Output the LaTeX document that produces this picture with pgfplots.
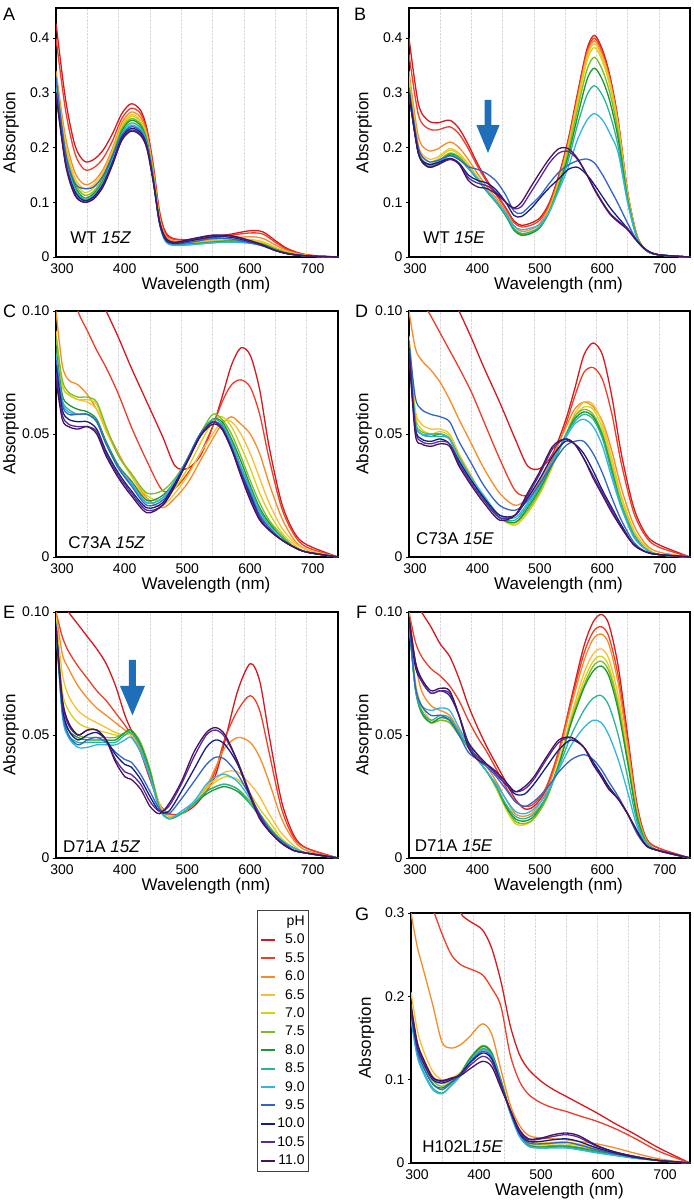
\documentclass[border=0pt]{standalone}
\usepackage{pgfplots}
\pgfplotsset{compat=1.18}
\usepackage{pgfplotstable}
\usepackage{fontspec}
\setmainfont{Liberation Sans}

\definecolor{ph1}{RGB}{215,25,30}
\definecolor{ph2}{RGB}{240,60,40}
\definecolor{ph3}{RGB}{245,140,40}
\definecolor{ph4}{RGB}{250,190,50}
\definecolor{ph5}{RGB}{215,210,20}
\definecolor{ph6}{RGB}{120,190,40}
\definecolor{ph7}{RGB}{30,150,50}
\definecolor{ph8}{RGB}{40,180,150}
\definecolor{ph9}{RGB}{50,180,225}
\definecolor{ph10}{RGB}{50,100,200}
\definecolor{ph11}{RGB}{20,30,130}
\definecolor{ph12}{RGB}{90,40,160}
\definecolor{ph13}{RGB}{70,20,90}
\definecolor{arrowblue}{RGB}{30,110,185}

% absorbance values in units of 0.001
\pgfplotstableread{
w p1 p2 p3 p4 p5 p6 p7 p8 p9 p10 p11 p12 p13
300 427 400 340 330 325 320 315 310 310 330 300 300 300
315 290 270 220 210 200 195 190 185 180 190 175 175 170
330 205 190 155 145 140 135 130 125 122 135 120 115 113
345 175 160 133 125 118 113 108 105 103 125 103 100 100
360 178 163 138 132 126 120 116 113 111 128 110 107 106
375 195 180 160 155 150 145 140 137 135 148 133 130 128
390 225 212 198 193 190 186 182 178 176 185 173 170 168
405 262 253 245 240 237 234 230 226 222 222 218 215 213
420 280 272 265 260 257 253 250 245 241 238 235 232 230
435 268 262 255 250 247 243 240 236 232 230 227 224 222
445 235 230 225 220 218 215 212 210 207 205 203 200 198
455 170 165 160 155 152 150 148 146 144 143 142 140 138
465 85 80 75 72 70 68 66 64 62 63 64 65 66
475 45 42 38 35 33 32 30 29 28 30 32 34 35
490 33 32 29 26 25 24 23 22 21 24 25 26 27
520 32 31 29 27 26 25 24 23 23 28 31 33 34
550 36 35 32 30 29 28 27 26 26 34 37 39 40
580 42 40 35 32 31 30 29 28 27 33 36 38 39
610 48 44 37 32 30 28 27 26 25 26 28 29 30
630 46 42 34 28 26 24 23 22 21 20 21 21 22
650 30 27 22 18 16 15 14 13 13 12 12 12 12
670 15 13 11 9 8 7 7 6 6 6 6 6 6
700 4 4 3 3 2 2 2 2 2 2 2 2 2
750 0 0 0 0 0 0 0 0 0 0 0 0 0
}\tabA

\pgfplotstableread{
w p1 p2 p3 p4 p5 p6 p7 p8 p9 p10 p11 p12 p13
300 400 370 340 330 320 310 300 300 300 310 300 300 300
315 280 260 220 205 200 195 190 190 190 200 190 190 190
330 250 235 195 180 175 170 165 168 170 175 170 165 165
345 245 232 197 182 178 174 170 170 172 176 172 168 168
365 250 238 210 198 195 190 188 186 185 185 180 178 180
380 235 225 200 190 187 183 181 180 179 178 172 170 170
395 205 198 178 170 167 164 162 162 162 165 150 145 140
410 170 165 152 146 144 142 141 142 143 160 140 135 128
425 140 137 128 123 121 120 119 120 122 152 135 130 125
440 115 113 107 103 101 100 99 100 102 138 122 118 115
455 90 88 83 79 77 76 75 77 80 113 100 100 100
468 66 63 57 53 51 50 49 52 57 84 76 88 90
480 58 55 47 43 41 40 40 43 50 80 74 92 100
495 62 58 50 46 44 43 43 46 53 95 88 118 128
510 72 68 62 58 56 55 54 56 60 112 108 145 155
525 100 97 92 89 87 85 83 83 84 135 127 172 180
540 150 147 142 139 137 133 129 126 122 155 143 190 198
555 215 212 207 203 200 193 185 176 164 168 160 193 198
570 300 296 290 286 280 270 257 242 215 176 164 178 180
585 380 375 370 365 358 342 324 296 250 179 150 150 150
597 405 400 395 390 383 365 345 313 262 172 132 125 123
610 378 373 368 363 357 341 323 295 250 150 110 100 98
622 330 326 321 317 311 298 283 260 225 125 90 80 78
635 250 247 243 240 236 227 216 202 190 97 72 66 64
650 120 118 117 116 114 110 106 102 100 62 52 52 50
665 40 39 39 38 38 37 36 35 35 30 30 30 29
680 12 12 12 12 12 12 12 12 12 12 13 13 13
700 4 4 4 4 4 4 4 4 4 4 4 4 4
750 0 0 0 0 0 0 0 0 0 0 0 0 0
}\tabB

\pgfplotstableread{
w p1 p2 p3 p4 p5 p6 p7 p8 p9 p10 p11 p12 p13
300 170 140 100 92 90 90 85 83 82 80 78 75 72
310 150 125 78 70 70 72 66 64 63 62 60 58 56
320 140 115 72 66 66 67 62 60 59 58 56 54 53
335 125 100 70 64 64 65 60 58 58 58 55 53 52
350 115 92 66 63 64 65 59 58 58 58 55 53 53
365 107 84 60 60 62 63 56 55 55 55 52 51 50
380 100 77 52 51 52 53 47 46 46 46 43 42 41
400 89 66 42 41 41 41 37 36 36 36 34 33 32
420 77 53 33 33 34 34 31 30 30 29 27 26 25
445 63 39 24 23 25 26 23 22 22 21 20 19 18
470 49 27 20 21 23 27 25 24 24 23 22 21 21
490 37 28 24 26 28 32 31 31 31 30 30 29 29
510 36 34 30 33 36 40 40 40 40 40 39 39 39
530 41 42 39 42 46 50 50 50 50 50 49 49 49
550 53 53 48 50 55 58 56 56 55 55 55 55 54
565 65 63 54 55 57 56 55 54 53 53 52 52 52
580 78 70 57 55 53 50 48 47 46 45 44 44 44
595 85 72 54 50 45 41 39 37 36 35 34 34 33
610 82 69 50 42 36 31 29 28 27 26 25 24 23
625 68 58 42 32 26 22 20 19 18 17 16 16 15
640 45 40 30 22 18 15 14 13 12 12 11 11 11
660 22 20 16 12 10 9 8 8 7 7 7 7 7
680 10 9 7 6 5 4 4 4 4 4 4 4 4
700 5 4 3 3 2 2 2 2 2 2 2 2 2
750 0 0 0 0 0 0 0 0 0 0 0 0 0
}\tabC

\pgfplotstableread{
w p1 p2 p3 p4 p5 p6 p7 p8 p9 p10 p11 p12 p13
300 170 140 100 90 88 87 86 86 85 88 85 84 83
310 150 118 85 60 58 56 55 55 55 65 53 52 50
320 140 105 80 54 52 51 50 50 50 60 48 47 46
335 125 98 76 52 50 50 49 49 50 58 47 46 45
350 115 91 71 52 51 50 50 49 50 57 48 47 46
365 107 84 64 50 49 48 48 48 48 55 46 46 45
380 100 77 56 42 41 41 40 40 40 47 39 38 37
400 89 67 46 33 32 32 32 32 32 38 31 30 29
420 77 55 36 24 24 24 24 24 25 29 24 23 22
445 63 40 26 16 16 16 16 16 17 21 17 16 15
470 48 27 21 13 13 14 14 15 16 19 17 17 17
490 37 25 24 18 18 19 20 21 22 23 24 25 26
510 36 30 31 26 26 27 28 29 30 30 32 34 35
530 42 40 41 37 37 38 38 39 39 38 41 44 45
550 55 53 52 49 49 49 49 49 48 45 47 48 48
565 68 65 60 58 57 57 56 55 54 47 46 46 46
580 82 75 63 63 61 60 59 58 56 47 42 40 40
595 87 77 61 62 60 58 57 56 53 42 35 33 32
610 82 72 55 54 52 50 49 48 45 34 27 26 25
625 65 58 43 40 38 36 35 34 32 24 20 19 18
640 42 38 28 25 24 22 21 21 20 15 13 12 12
660 20 18 13 11 10 9 9 9 8 6 5 5 5
680 9 8 5 4 4 3 3 3 3 2 2 2 2
700 5 4 2 1 1 1 1 1 1 1 1 1 1
750 0 0 0 0 0 0 0 0 0 0 0 0 0
}\tabD

\pgfplotstableread{
w p1 p2 p3 p4 p5 p6 p7 p8 p9 p10 p11 p12 p13
300 120 100 100 98 97 96 95 94 94 95 94 94 94
310 105 90 83 75 68 64 60 60 58 60 62 64 65
320 100 84 77 66 60 55 52 50 49 50 52 54 55
335 95 78 70 60 55 50 49 47 45 46 48 50 50
350 90 73 65 57 53 49 48 47 45 48 50 52 52
365 85 68 61 55 52 49 48 47 46 49 51 52 52
380 79 64 58 53 51 49 48 47 46 47 48 48 48
395 70 59 55 51 50 49 48 47 46 43 42 40 39
410 58 54 52 50 50 51 51 50 48 40 38 35 33
420 52 50 50 50 51 52 52 51 49 39 37 34 32
435 43 43 44 45 46 47 46 45 43 34 32 30 28
450 32 33 34 35 36 36 35 34 33 27 25 23 21
465 22 22 22 22 21 21 20 20 20 20 19 19 18
480 18 18 17 17 16 16 16 16 16 18 19 21 22
500 18 18 18 18 18 18 18 18 19 24 27 30 31
520 21 22 22 22 22 22 22 22 23 31 36 41 43
540 27 28 29 29 28 27 26 27 30 38 45 50 51
555 34 36 37 32 31 29 28 29 33 41 48 52 53
570 48 49 45 35 33 30 29 30 34 40 46 49 50
590 68 60 49 35 32 28 27 28 31 34 38 39 39
610 79 66 47 30 26 23 22 22 24 25 25 26 25
625 72 60 41 25 20 18 17 17 18 18 17 17 16
640 50 43 31 18 15 13 12 12 12 12 11 11 11
660 23 20 16 10 8 7 7 7 7 7 6 6 6
680 9 8 7 5 4 4 4 4 4 3 3 3 3
700 4 4 3 2 2 2 2 2 2 2 2 2 2
750 0 0 0 0 0 0 0 0 0 0 0 0 0
}\tabE

\pgfplotstableread{
w p1 p2 p3 p4 p5 p6 p7 p8 p9 p10 p11 p12 p13
300 120 100 100 98 97 97 96 96 96 96 97 98 98
310 105 88 80 72 70 70 69 69 70 70 78 80 80
320 100 82 68 62 60 60 59 60 62 62 72 72 73
335 94 77 62 56 55 55 55 56 60 58 67 67 68
350 87 74 60 56 56 56 57 58 61 58 68 68 69
365 82 70 58 55 55 55 56 57 60 56 66 67 68
380 73 64 52 50 50 50 51 51 53 50 58 58 58
395 62 56 47 45 45 45 45 45 46 43 47 46 45
410 53 49 42 40 40 40 40 40 40 40 42 41 40
425 45 43 37 35 35 35 35 35 35 37 38 38 38
440 38 36 31 29 28 29 29 29 30 33 34 34 35
455 31 29 24 21 20 21 21 22 24 28 30 30 31
470 24 23 18 15 14 15 16 17 19 23 26 27 27
485 20 21 17 14 13.5 14 15 16 18 21 26 28 29
500 21 22 19 16 16 16 17 18 20 23 30 32 33
520 28 29 27 24 24 24 25 25 26 28 37 40 41
540 43 44 42 39 39 38 38 37 36 35 44 47 48
560 65 64 62 58 57 56 55 50 46 40 48 49 49
580 86 83 80 75 72 70 69 60 53 42 45 45 45
595 96 92 89 83 80 78 76 65 56 40 39 38 38
608 99 94 91 85 82 80 78 66 55 36 34 33 33
620 95 90 87 81 78 76 74 62 50 31 29 28 28
635 78 74 71 66 63 62 60 50 40 25 24 24 24
650 50 48 46 43 41 40 39 33 27 18 18 18 18
665 22 21 20 19 18 18 17 15 13 10 11 11 11
680 8 8 7 7 7 7 6 6 6 5 5 5 5
700 4 4 3 3 3 3 3 3 3 3 3 3 3
750 0 0 0 0 0 0 0 0 0 0 0 0 0
}\tabF

\pgfplotstableread{
w p1 p2 p3 p4 p5 p6 p7 p8 p9 p10 p11 p12 p13
300 450 400 300 205 190 185 180 175 172 180 182 185 190
310 420 360 260 160 145 140 135 130 128 135 140 142 145
320 400 330 232 135 125 120 115 110 108 115 120 122 125
335 370 305 190 110 104 99 95 90 88 95 100 102 103
350 350 275 145 100 95 92 88 84 83 90 96 98 99
365 330 250 138 102 100 98 96 93 93 97 100 101 102
380 300 238 142 109 108 108 107 105 105 106 107 106 105
395 290 233 152 125 125 126 125 123 122 121 120 117 113
415 280 226 167 138 140 141 140 137 136 134 132 128 122
430 258 210 155 130 132 133 132 130 129 127 125 121 116
445 218 188 112 100 100 100 99 98 97 96 95 93 90
460 165 130 70 63 62 62 61 60 60 62 63 64 64
475 130 98 45 37 35 34 33 32 32 35 36 38 40
490 112 82 33 26 24 22 21 20 20 24 26 28 29
510 98 72 30 24 22 20 19 18 18 23 26 29 30
530 88 66 29 25 23 21 20 19 18 24 28 32 34
550 80 62 28 25 23 21 20 19 18 25 29 34 36
570 72 57 26 23 21 19 18 17 16 22 26 31 33
600 60 50 23 18 16 15 14 13 12 16 18 20 21
630 47 41 18 13 12 11 10 9 9 11 12 13 13
660 35 30 12 8 7 7 6 6 6 7 7 8 8
700 18 14 5 3 3 3 3 3 3 3 3 3 3
750 0 0 0 0 0 0 0 0 0 0 0 0 0
}\tabG

\newcommand{\plotall}[1]{%
  \pgfplotsinvokeforeach{1,...,13}{\addplot[color=ph##1] table[x=w,y=p##1]{#1};}}

\pgfplotsset{
  panel/.style={
    scale only axis, xmin=300, xmax=750, ymin=0,
    xtick={300,400,500,600,700}, xticklabels={300,400,500,600,700},
    minor xtick={350,450,550,650,750},
    xmajorgrids, xminorgrids,
    grid style={densely dotted, gray!30, line width=0.5pt},
    axis line style={line width=1.3pt, black},
    tick align=outside, major tick length=3pt, minor tick length=0pt,
    xtick style={draw=none}, ytick pos=left,
    ytick style={line width=0.8pt, black},
    tick label style={font=\fontsize{14}{16}\selectfont},
    xticklabel style={xshift=6pt},
    xlabel={Wavelength (nm)}, ylabel={Absorption},
    every axis x label/.style={at={(rel axis cs:0.532,0)}, anchor=center, yshift=-28pt,
      font=\fontsize{17}{19}\selectfont},
    every axis y label/.style={at={(rel axis cs:-0.16,0.5)}, anchor=center, rotate=90,
      font=\fontsize{17}{19}\selectfont},
    every axis plot/.append style={line width=1.3pt, smooth, no markers},
  },
  bigy/.style={ymax=455, ytick={0,100,200,300,400}, yticklabels={0,0.1,0.2,0.3,0.4}},
  smally/.style={ymax=100, ytick={0,50,100}, yticklabels={0,0.05,0.10}},
}
\tikzset{
  letter/.style={anchor=north west, inner sep=0pt, font=\fontsize{18}{20}\selectfont},
  note/.style={anchor=west, inner sep=0pt, font=\fontsize{17}{19}\selectfont},
}

\begin{document}
\begin{tikzpicture}
\path[use as bounding box] (0pt,0pt) rectangle (693pt,-1204pt);

% A
\begin{axis}[panel, bigy, at={(56pt,-8pt)}, anchor=north west, width=282pt, height=249pt]
\plotall{\tabA}
\node[note] at (rel axis cs:0.05,0.076) {WT \textit{15Z}};
\end{axis}
% B
\begin{axis}[panel, bigy, at={(409pt,-8pt)}, anchor=north west, width=281pt, height=249pt]
\plotall{\tabB}
\fill[arrowblue] (axis cs:421,287) -- (axis cs:432,287) -- (axis cs:432,241) -- (axis cs:445,241) -- (axis cs:426.5,190) -- (axis cs:408,241) -- (axis cs:421,241) -- cycle;
\node[note] at (rel axis cs:0.05,0.076) {WT \textit{15E}};
\end{axis}
% C
\begin{axis}[panel, smally, at={(56pt,-311pt)}, anchor=north west, width=282pt, height=246pt]
\plotall{\tabC}
\node[note] at (rel axis cs:0.043,0.06) {C73A \textit{15Z}};
\end{axis}
% D
\begin{axis}[panel, smally, at={(409pt,-311pt)}, anchor=north west, width=281pt, height=246pt]
\plotall{\tabD}
\node[note] at (rel axis cs:0.025,0.075) {C73A \textit{15E}};
\end{axis}
% E
\begin{axis}[panel, smally, at={(56pt,-612pt)}, anchor=north west, width=282pt, height=246pt]
\plotall{\tabE}
\fill[arrowblue] (axis cs:416.4,80.5) -- (axis cs:427.6,80.5) -- (axis cs:427.6,70) -- (axis cs:442,70) -- (axis cs:422,58) -- (axis cs:402,70) -- (axis cs:416.4,70) -- cycle;
\node[note] at (rel axis cs:0.025,0.047) {D71A \textit{15Z}};
\end{axis}
% F
\begin{axis}[panel, smally, at={(409pt,-612pt)}, anchor=north west, width=281pt, height=246pt]
\plotall{\tabF}
\node[note] at (rel axis cs:0.02,0.05) {D71A \textit{15E}};
\end{axis}
% G
\begin{axis}[panel, at={(411pt,-913pt)}, anchor=north west, width=279pt, height=250pt,
  ymax=300, ytick={0,100,200,300}, yticklabels={0,0.1,0.2,0.3},
  legend entries={pH,5.0,5.5,6.0,6.5,7.0,7.5,8.0,8.5,9.0,9.5,10.0,10.5,11.0},
  legend cell align=right,
  legend image code/.code={\draw[#1, line width=2pt] (0pt,0pt) -- (14pt,0pt);},
  legend style={at={(rel axis cs:-0.552,1.012)}, anchor=north west,
    draw=black!75, line width=0.8pt, font=\fontsize{14}{16}\selectfont,
    nodes={inner sep=1pt, text height=11pt, text depth=3pt}, row sep=2.4pt,
    inner xsep=3pt, inner ysep=3pt, column sep=0pt}]
\addlegendimage{empty legend}
\plotall{\tabG}
\node[note] at (rel axis cs:0.04,0.064) {H102L\textit{15E}};
\end{axis}

\node[letter] at (3pt,-8pt) {A};
\node[letter] at (354pt,-8pt) {B};
\node[letter] at (3pt,-305pt) {C};
\node[letter] at (355pt,-305pt) {D};
\node[letter] at (3pt,-606pt) {E};
\node[letter] at (356pt,-606pt) {F};
\node[letter] at (355pt,-908pt) {G};
\end{tikzpicture}
\end{document}
